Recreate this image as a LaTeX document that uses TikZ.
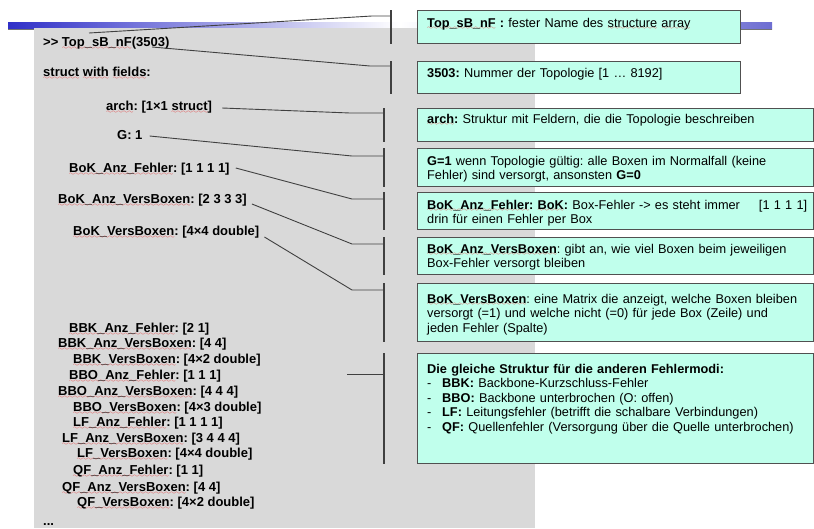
\documentclass[tikz,border=0pt]{standalone}
\usepackage{fontspec}
\setmainfont{Liberation Sans}
\usetikzlibrary{calc}

\definecolor{panelgray}{RGB}{217,217,217}
\definecolor{notefill}{RGB}{192,255,236}
\definecolor{noteedge}{RGB}{80,80,80}
\definecolor{leader}{RGB}{64,64,64}
\definecolor{barblue}{RGB}{48,48,200}
\definecolor{barblueR}{RGB}{110,110,210}
\definecolor{spell}{RGB}{235,45,45}

% red wavy spell-check underline
\font\wavefont=lasy6
\newsavebox\wavebox
\newcommand\sperr[1]{\sbox\wavebox{#1}%
  \rlap{\lower2.5pt\hbox to \wd\wavebox{\color{spell}\xleaders\hbox{\wavefont\char58}\hfill}}%
  \usebox\wavebox}
\frenchspacing

\begin{document}
\begin{tikzpicture}[x=1pt,y=-1pt,
  code/.style={anchor=base west, inner sep=0pt, font=\fontsize{13}{15}\selectfont\bfseries},
  note/.style={draw=noteedge, line width=1.3pt, fill=notefill, anchor=north west,
               inner sep=0pt, minimum width=396pt},
  notetext/.style={anchor=base west, inner sep=0pt, text width=380pt, align=left,
                   font=\fontsize{12.75}{14.5}\selectfont},
  leaderline/.style={draw=leader, line width=0.9pt},
  bracket/.style={draw=leader, line width=1.7pt},
]
\useasboundingbox (0,0) rectangle (814,528);

% header bar
\shade[left color=barblue, right color=white] (8,22.5) rectangle (400,29.5);
\shade[left color=white, right color=barblueR] (400,22.5) rectangle (772,29.5);
\draw[black!55, line width=0.8pt] (8,29.4) -- (772,29.4);

% console panel
\fill[panelgray] (34,28) rectangle (535,528);

% console output
\node[code] (t0)  at (43,46.5)  {>\kern0pt> \sperr{Top\_sB\_nF}(3503)};
\node[code] (t1)  at (43,76.5)  {\sperr{struct} \sperr{with} \sperr{fields}:};
\node[code] (t2)  at (106,110.5) {\sperr{arch}: [1×1 \sperr{struct}]};
\node[code] (t3)  at (117,139.5) {G: 1};
\node[code] (t4)  at (69,172.5)  {\sperr{BoK\_Anz\_Fehler}: [1 1 1 1]};
\node[code] (t5)  at (58,203.5)  {\sperr{BoK\_Anz\_VersBoxen}: [2 3 3 3]};
\node[code] (t6)  at (73,235.5)  {\sperr{BoK\_VersBoxen}: [4×4 double]};
\node[code] (t7)  at (69,332.5)  {\sperr{BBK\_Anz\_Fehler}: [2 1]};
\node[code] (t8)  at (58,347.5)  {\sperr{BBK\_Anz\_VersBoxen}: [4 4]};
\node[code] (t9)  at (73,363.5)  {\sperr{BBK\_VersBoxen}: [4×2 double]};
\node[code] (t10) at (69,379.5)  {\sperr{BBO\_Anz\_Fehler}: [1 1 1]};
\node[code] (t11) at (58,395.5)  {\sperr{BBO\_Anz\_VersBoxen}: [4 4 4]};
\node[code] (t12) at (73,411.5)  {\sperr{BBO\_VersBoxen}: [4×3 double]};
\node[code] (t13) at (73,426.5)  {\sperr{LF\_Anz\_Fehler}: [1 1 1 1]};
\node[code] (t14) at (62,442.5)  {\sperr{LF\_Anz\_VersBoxen}: [3 4 4 4]};
\node[code] (t15) at (77,457.5)  {\sperr{LF\_VersBoxen}: [4×4 double]};
\node[code] (t16) at (73,474.5)  {\sperr{QF\_Anz\_Fehler}: [1 1]};
\node[code] (t17) at (62,491.5)  {\sperr{QF\_Anz\_VersBoxen}: [4 4]};
\node[code] (t18) at (77,506.5)  {\sperr{QF\_VersBoxen}: [4×2 double]};
\node[code] (t19) at (43,525)    {...};

% explanation boxes
\node[note, minimum width=323pt, minimum height=33pt] (b1) at (417,10) {};
\node[note, minimum width=323pt, minimum height=32pt] (b2) at (417,61) {};
\node[note, minimum height=33pt]  (b3) at (417,108) {};
\node[note, minimum height=38pt]  (b4) at (417,148) {};
\node[note, minimum height=37pt]  (b5) at (417,192) {};
\node[note, minimum height=37pt]  (b6) at (417,237) {};
\node[note, minimum height=58pt]  (b7) at (417,283) {};
\node[note, minimum height=110pt] (b8) at (417,353) {};

\node[notetext] (n1) at ($(b1.north west)+(10,17)$)
  {\textbf{\sperr{Top\_sB\_nF} :} fester Name des \sperr{structure} \sperr{array}};
\node[notetext] (n2) at ($(b2.north west)+(10,16)$)
  {\textbf{3503:} Nummer der Topologie [1 … 8192]};
\node[notetext] (n3) at ($(b3.north west)+(10,15)$)
  {\textbf{\sperr{arch}:} Struktur mit Feldern, die die Topologie beschreiben};
\node[notetext] (n4) at ($(b4.north west)+(10,17)$)
  {\textbf{G=1} wenn Topologie gültig: alle Boxen im Normalfall (keine\\
   Fehler) sind versorgt, ansonsten \textbf{G=0}};
\node[notetext] (n5) at ($(b5.north west)+(10,17)$)
  {\textbf{\sperr{BoK\_Anz\_Fehler}: \sperr{BoK}:} Box-Fehler -> es steht immer\hfill[1 1 1 1]\\
   drin für einen Fehler per Box};
\node[notetext] (n6) at ($(b6.north west)+(10,16)$)
  {\textbf{\sperr{BoK\_Anz\_VersBoxen}}: gibt an, wie viel Boxen beim jeweiligen\\
   Box-Fehler versorgt bleiben};
\node[notetext] (n7) at ($(b7.north west)+(10,20)$)
  {\textbf{\sperr{BoK\_VersBoxen}}: eine Matrix die anzeigt, welche Boxen bleiben\\
   versorgt (=1) und welche nicht (=0) für jede Box (Zeile) und\\
   jeden Fehler (Spalte)};
\node[notetext] (n8) at ($(b8.north west)+(10,20)$)
  {\textbf{Die gleiche Struktur für die anderen Fehlermodi:}\\
   \makebox[15pt][l]{-}\textbf{BBK:} Backbone-Kurzschluss-Fehler\\
   \makebox[15pt][l]{-}\textbf{BBO:} Backbone unterbrochen (O: offen)\\
   \makebox[15pt][l]{-}\textbf{LF:} Leitungsfehler (betrifft die schalbare Verbindungen)\\
   \makebox[15pt][l]{-}\textbf{QF:} Quellenfehler (Versorgung über die Quelle unterbrochen)};

% bracket attachment points
\coordinate (k1) at ($(b1.north west)+(-26,6)$);
\coordinate (k2) at ($(b2.north west)+(-26,5)$);
\coordinate (k3) at ($(b3.north west)+(-33,5)$);
\coordinate (k4) at ($(b4.north west)+(-33,8)$);
\coordinate (k5) at ($(b5.north west)+(-33,7)$);
\coordinate (k6) at ($(b6.north west)+(-33,7)$);
\coordinate (k7) at ($(b7.north west)+(-33,7)$);
\coordinate (k8) at ($(b8.north west)+(-33,21)$);

% brackets
\foreach \b/\d in {b1/26,b2/26,b3/33,b4/33,b5/33,b6/33,b7/33,b8/33}
  \draw[bracket] ($(\b.north west)+(-\d,0)$) -- ($(\b.south west)+(-\d,0)$);

% leader lines
\draw[leaderline] ($(t0.base west)+(46,-13.5)$) -- ($(k1)+(-19,0)$) -- (k1);
\draw[leaderline] ($(t0.base west)+(109,0.5)$) -- ($(k2)+(-21,0)$) -- (k2);
\draw[leaderline] ($(t2.base east)+(10,-2.5)$) -- ($(k3)+(-34,0)$) -- (k3);
\draw[leaderline] ($(t3.base east)+(7,-3.5)$) -- ($(k4)+(-32,0)$) -- (k4);
\draw[leaderline] ($(t4.base east)+(6,-4.5)$) -- ($(k5)+(-32,0)$) -- (k5);
\draw[leaderline] ($(t5.base east)+(5,0.5)$) -- ($(k6)+(-32,0)$) -- (k6);
\draw[leaderline] ($(t6.base east)+(5,1.5)$) -- ($(k7)+(-32,0)$) -- (k7);
\draw[leaderline] ($(k8)+(-37,0)$) -- (k8);
\end{tikzpicture}
\end{document}
